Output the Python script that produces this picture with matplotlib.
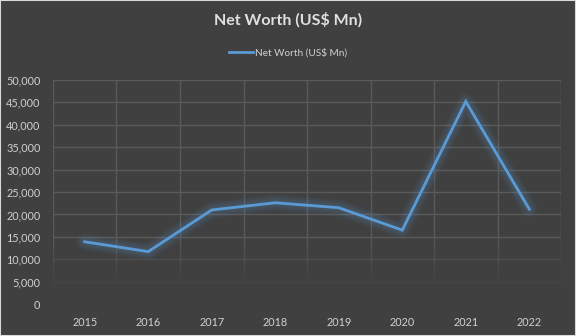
import numpy as np
import matplotlib
matplotlib.use("Agg")
import matplotlib.pyplot as plt
from matplotlib.patches import Rectangle

years = ["2015", "2016", "2017", "2018", "2019", "2020", "2021", "2022"]
net_worth = [13900, 11700, 21000, 22600, 21500, 16500, 45200, 21200]
yticks = [0, 5000, 10000, 15000, 20000, 25000, 30000, 35000, 40000, 45000, 50000]

BG = "#404040"
GRID = "#5a5a5a"
TXT = "#d0d0d0"
LINE = "#5b9bd5"
plt.rcParams["font.family"] = ["Lato", "DejaVu Sans"]

fig = plt.figure(figsize=(5.76, 3.36), dpi=100, facecolor=BG)
fig.patches.append(Rectangle((0, 0), 1, 1, transform=fig.transFigure, fill=False,
                             ec="#d9d9d9", lw=1.5, zorder=10))
ax = fig.add_axes([0.092, 0.095, 0.882, 0.667], facecolor=BG)

x = np.arange(len(years))
ax.set_xlim(-0.5, len(years) - 0.5)
ax.set_ylim(0, 50000)

# gridlines fade out towards the bottom of the plot area
for t in yticks:
    a = 1.0 if t >= 15000 else (0.55 if t == 10000 else 0.2 if t == 5000 else 0.0)
    ax.axhline(t, color=GRID, lw=1, alpha=a, zorder=1)
edges = np.arange(len(years) + 1) - 0.5
steps = np.linspace(0, 50000, 41)
for e in edges:
    for lo, hi in zip(steps[:-1], steps[1:]):
        a = min(1.0, max(0.0, (lo - 3000) / 12000))
        ax.plot([e, e], [lo, hi], color=GRID, lw=1, alpha=a, zorder=1, solid_capstyle="butt")

# soft glow under the line
for w in [12, 10, 8, 6, 4.5]:
    ax.plot(x, net_worth, color=LINE, lw=w, alpha=0.05, solid_joinstyle="round",
            solid_capstyle="round", zorder=2)
ax.plot(x, net_worth, color=LINE, lw=2.0, label="Net Worth (US$ Mn)", zorder=3,
        solid_joinstyle="miter")

ax.set_xticks(x)
ax.set_xticklabels(years)
ax.set_yticks(yticks)
ax.set_yticklabels([f"{v:,}" for v in yticks])
ax.tick_params(colors=TXT, labelsize=7.8, length=0, pad=9)
ax.tick_params(axis="y", pad=9)
for s in ax.spines.values():
    s.set_visible(False)

fig.text(0.5, 0.94, "Net Worth (US$ Mn)", ha="center", va="center",
         color="#e0e0e0", fontsize=11.5, fontweight="bold")
leg = fig.legend(loc="center", bbox_to_anchor=(0.5, 0.842), frameon=False,
                 fontsize=7.2, handlelength=2.4, handletextpad=0.2)
for t in leg.get_texts():
    t.set_color(TXT)
leg.get_lines()[0].set_linewidth(2)

fig.savefig("out.png", dpi=100, facecolor=BG)
